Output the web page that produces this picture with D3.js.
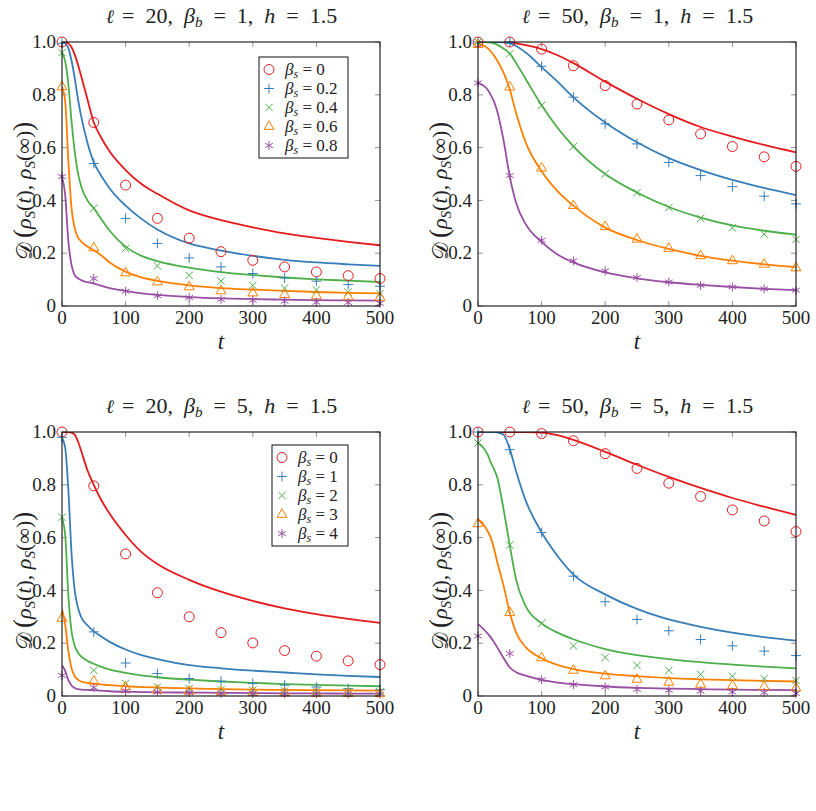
<!DOCTYPE html>
<html lang="en">
<head>
<meta charset="utf-8">
<script src="https://cdn.jsdelivr.net/npm/d3@7"></script>
<style>
body { margin: 0; background: #fff; }
</style>
</head>
<body>
<svg id="fig" width="816" height="811"></svg>
<script>

// time grid of the curves and of the markers
var tLine = [0, 5, 10, 15, 20, 25, 30, 40, 50, 60, 75, 100, 125, 150, 200, 250, 300, 350, 400, 450, 500];
var tMark = [0, 50, 100, 150, 200, 250, 300, 350, 400, 450, 500];
var xTicks = [0, 100, 200, 300, 400, 500];
var yTicks = [0, 0.2, 0.4, 0.6, 0.8, 1.0];
var yTickLabels = ["0", "0.2", "0.4", "0.6", "0.8", "1.0"];
var colors = ["#e41a1c", "#377eb8", "#4daf4a", "#ff7f00", "#984ea3"];

var titleEll = ["20", "50", "20", "50"];
var titleBetaB = ["1", "1", "5", "5"];
var legendTop = ["0", "0.2", "0.4", "0.6", "0.8"];
var legendBottom = ["0", "1", "2", "3", "4"];

// l = 20, beta_b = 1
var p1Lines = [
  [1.0, 1.0, 0.995, 0.98, 0.952, 0.915, 0.872, 0.783, 0.695, 0.645, 0.585, 0.515, 0.462, 0.425, 0.362, 0.325, 0.298, 0.275, 0.258, 0.243, 0.23],
  [1.0, 0.995, 0.977, 0.93, 0.863, 0.785, 0.72, 0.618, 0.544, 0.5, 0.445, 0.38, 0.33, 0.29, 0.237, 0.21, 0.19, 0.175, 0.165, 0.158, 0.152],
  [0.958, 0.927, 0.84, 0.70, 0.585, 0.505, 0.455, 0.40, 0.37, 0.335, 0.285, 0.225, 0.19, 0.17, 0.145, 0.128, 0.117, 0.108, 0.101, 0.096, 0.091],
  [0.83, 0.775, 0.55, 0.37, 0.295, 0.26, 0.245, 0.225, 0.211, 0.195, 0.165, 0.13, 0.108, 0.095, 0.078, 0.068, 0.062, 0.057, 0.053, 0.050, 0.048],
  [0.49, 0.42, 0.245, 0.155, 0.117, 0.105, 0.098, 0.09, 0.085, 0.078, 0.068, 0.057, 0.048, 0.042, 0.034, 0.029, 0.026, 0.024, 0.022, 0.021, 0.02]
];
var p1Marks = [
  [1.0, 0.695, 0.458, 0.332, 0.257, 0.206, 0.173, 0.148, 0.129, 0.115, 0.104],
  [0.995, 0.54, 0.332, 0.237, 0.182, 0.148, 0.123, 0.106, 0.094, 0.081, 0.075],
  [0.96, 0.37, 0.218, 0.152, 0.116, 0.095, 0.078, 0.068, 0.061, 0.053, 0.047],
  [0.83, 0.22, 0.125, 0.091, 0.072, 0.057, 0.049, 0.043, 0.038, 0.034, 0.032],
  [0.49, 0.104, 0.056, 0.039, 0.032, 0.025, 0.022, 0.018, 0.014, 0.013, 0.01]
];

// l = 50, beta_b = 1
var p2Lines = [
  [1.0, 1.0, 1.0, 1.0, 1.0, 1.0, 1.0, 1.0, 0.998, 0.995, 0.988, 0.973, 0.95, 0.92, 0.85, 0.785, 0.727, 0.678, 0.642, 0.61, 0.582],
  [1.0, 1.0, 1.0, 1.0, 1.0, 1.0, 1.0, 0.999, 0.995, 0.985, 0.96, 0.905, 0.85, 0.79, 0.695, 0.62, 0.56, 0.515, 0.478, 0.447, 0.42],
  [1.0, 1.0, 1.0, 0.999, 0.998, 0.995, 0.99, 0.975, 0.956, 0.92, 0.86, 0.76, 0.675, 0.605, 0.50, 0.43, 0.375, 0.335, 0.305, 0.285, 0.27],
  [0.99, 0.989, 0.985, 0.977, 0.965, 0.95, 0.93, 0.885, 0.82, 0.73, 0.62, 0.51, 0.435, 0.38, 0.297, 0.25, 0.216, 0.19, 0.172, 0.158, 0.148],
  [0.845, 0.84, 0.832, 0.82, 0.80, 0.775, 0.74, 0.63, 0.49, 0.39, 0.31, 0.243, 0.195, 0.165, 0.127, 0.105, 0.09, 0.08, 0.072, 0.065, 0.06]
];
var p2Marks = [
  [1.0, 1.0, 0.973, 0.91, 0.835, 0.765, 0.705, 0.652, 0.604, 0.565, 0.529],
  [1.0, 1.0, 0.908, 0.791, 0.69, 0.614, 0.544, 0.494, 0.452, 0.416, 0.387],
  [1.0, 0.956, 0.76, 0.604, 0.50, 0.429, 0.373, 0.332, 0.296, 0.272, 0.252],
  [0.99, 0.829, 0.522, 0.38, 0.30, 0.253, 0.218, 0.19, 0.171, 0.158, 0.144],
  [0.845, 0.494, 0.249, 0.171, 0.133, 0.108, 0.091, 0.078, 0.072, 0.065, 0.06]
];

// l = 20, beta_b = 5
var p3Lines = [
  [1.0, 1.0, 1.0, 0.998, 0.99, 0.965, 0.93, 0.855, 0.80, 0.75, 0.69, 0.61, 0.545, 0.50, 0.44, 0.395, 0.36, 0.332, 0.31, 0.292, 0.277],
  [0.977, 0.94, 0.78, 0.54, 0.4, 0.335, 0.3, 0.268, 0.245, 0.228, 0.205, 0.176, 0.155, 0.14, 0.117, 0.105, 0.096, 0.089, 0.082, 0.076, 0.072],
  [0.673, 0.61, 0.38, 0.245, 0.19, 0.165, 0.15, 0.133, 0.122, 0.112, 0.1, 0.088, 0.078, 0.071, 0.062, 0.055, 0.05, 0.045, 0.042, 0.039, 0.037],
  [0.33, 0.27, 0.17, 0.105, 0.075, 0.062, 0.055, 0.05, 0.047, 0.044, 0.041, 0.037, 0.034, 0.032, 0.029, 0.026, 0.024, 0.023, 0.022, 0.021, 0.02],
  [0.116, 0.095, 0.06, 0.04, 0.03, 0.026, 0.024, 0.023, 0.022, 0.02, 0.018, 0.016, 0.015, 0.014, 0.013, 0.012, 0.011, 0.01, 0.01, 0.009, 0.009]
];
var p3Marks = [
  [1.0, 0.796, 0.538, 0.391, 0.30, 0.24, 0.201, 0.172, 0.151, 0.133, 0.119],
  [0.98, 0.243, 0.125, 0.085, 0.066, 0.056, 0.047, 0.041, 0.034, 0.028, 0.024],
  [0.677, 0.097, 0.047, 0.034, 0.028, 0.024, 0.022, 0.019, 0.018, 0.016, 0.015],
  [0.294, 0.056, 0.034, 0.022, 0.018, 0.015, 0.013, 0.011, 0.01, 0.009, 0.008],
  [0.078, 0.032, 0.019, 0.015, 0.013, 0.01, 0.009, 0.008, 0.008, 0.007, 0.007]
];

// l = 50, beta_b = 5
var p4Lines = [
  [1.0, 1.0, 1.0, 1.0, 1.0, 1.0, 1.0, 1.0, 1.0, 1.0, 1.0, 0.998, 0.988, 0.97, 0.925, 0.876, 0.83, 0.788, 0.75, 0.717, 0.686],
  [1.0, 1.0, 1.0, 1.0, 1.0, 1.0, 0.999, 0.99, 0.935, 0.85, 0.74, 0.62, 0.53, 0.46, 0.385, 0.33, 0.29, 0.262, 0.24, 0.223, 0.21],
  [0.958, 0.95, 0.935, 0.915, 0.885, 0.86, 0.83, 0.71, 0.57, 0.44, 0.34, 0.275, 0.24, 0.215, 0.178, 0.155, 0.14, 0.128, 0.119, 0.111, 0.105],
  [0.667, 0.66, 0.645, 0.625, 0.6, 0.56, 0.51, 0.42, 0.315, 0.24, 0.185, 0.143, 0.118, 0.102, 0.085, 0.075, 0.068, 0.063, 0.06, 0.057, 0.055],
  [0.272, 0.262, 0.25, 0.237, 0.222, 0.205, 0.185, 0.145, 0.108, 0.09, 0.077, 0.061, 0.051, 0.045, 0.036, 0.031, 0.028, 0.026, 0.024, 0.023, 0.022]
];
var p4Marks = [
  [1.0, 1.0, 0.994, 0.967, 0.918, 0.862, 0.806, 0.756, 0.705, 0.663, 0.623],
  [1.0, 0.933, 0.619, 0.454, 0.357, 0.29, 0.247, 0.214, 0.19, 0.17, 0.153],
  [0.958, 0.572, 0.275, 0.19, 0.146, 0.116, 0.097, 0.082, 0.075, 0.066, 0.059],
  [0.652, 0.316, 0.144, 0.097, 0.076, 0.063, 0.052, 0.044, 0.039, 0.035, 0.03],
  [0.227, 0.161, 0.062, 0.043, 0.034, 0.025, 0.022, 0.018, 0.015, 0.013, 0.01]
];

var FONT = "'Liberation Serif'";
var svg = d3.select("#fig");

var symbols = [
  d3.symbol().type(d3.symbolCircle).size(78),
  d3.symbol().type(d3.symbolPlus).size(34),
  d3.symbol().type(d3.symbolX).size(38),
  d3.symbol().type(d3.symbolTriangle2).size(70),
  d3.symbol().type(d3.symbolAsterisk).size(55)
];

var pw = 318, ph = 264;

function txt(parent, fam) {
  return parent.append("text").style("font-family", fam || FONT).style("fill", "#222");
}

function sub(text, parent, size, dy) {
  parent.append("tspan").text(text).attr("dy", dy).style("font-size", size + "px").style("font-style", "italic");
}

function drawPanel(idx, left, top, lines, marks, legendLabels) {
  var g = svg.append("g").attr("transform", "translate(" + left + "," + top + ")");

  var x = d3.scaleLinear().domain([0, 500]).range([0, pw]);
  var y = d3.scaleLinear().domain([0, 1]).range([ph, 0]);

  var clipId = "clip" + idx;
  g.append("clipPath").attr("id", clipId)
    .append("rect").attr("width", pw).attr("height", ph);

  // ticks, inward, on all four sides
  var ticks = g.append("g").attr("stroke", "#777").attr("stroke-width", 0.8);
  xTicks.forEach(function(t) {
    ticks.append("line").attr("x1", x(t)).attr("x2", x(t)).attr("y1", ph).attr("y2", ph - 5);
    ticks.append("line").attr("x1", x(t)).attr("x2", x(t)).attr("y1", 0).attr("y2", 5);
  });
  yTicks.forEach(function(v) {
    ticks.append("line").attr("x1", 0).attr("x2", 5).attr("y1", y(v)).attr("y2", y(v));
    ticks.append("line").attr("x1", pw).attr("x2", pw - 5).attr("y1", y(v)).attr("y2", y(v));
  });

  // curves
  var line = d3.line()
    .x(function(d, i) { return x(tLine[i]); })
    .y(function(d) { return y(d); })
    .curve(d3.curveMonotoneX);

  g.append("g").attr("clip-path", "url(#" + clipId + ")")
    .selectAll("path")
    .data(lines)
    .enter().append("path")
    .attr("d", line)
    .attr("fill", "none")
    .attr("stroke", function(d, i) { return colors[i]; })
    .attr("stroke-width", 1.8);

  // markers
  marks.forEach(function(series, s) {
    g.append("g").selectAll("path")
      .data(series)
      .enter().append("path")
      .attr("transform", function(d, i) { return "translate(" + x(tMark[i]) + "," + y(d) + ")"; })
      .attr("d", symbols[s])
      .attr("fill", "none")
      .attr("stroke", colors[s])
      .attr("stroke-width", 1);
  });

  // frame
  g.append("rect").attr("width", pw).attr("height", ph)
    .attr("fill", "none").attr("stroke", "#111").attr("stroke-width", 1.1);

  // tick labels
  xTicks.forEach(function(t) {
    txt(g).attr("x", x(t)).attr("y", ph + 18)
      .attr("text-anchor", "middle")
      .style("font-size", "19px")
      .text(t);
  });
  yTicks.forEach(function(v, i) {
    txt(g).attr("x", -6).attr("y", y(v))
      .attr("dy", "0.33em")
      .attr("text-anchor", "end")
      .style("font-size", "19px")
      .text(yTickLabels[i]);
  });

  // x label
  txt(g).attr("x", pw / 2).attr("y", ph + 43)
    .attr("text-anchor", "middle")
    .style("font-size", "23px").style("font-style", "italic")
    .text("t");

  // y label: script D on its own, then the rest
  txt(g, "'DejaVu Serif'")
    .attr("transform", "translate(-30,218) rotate(-90)")
    .style("font-size", "22px")
    .text("\uD835\uDC9F");
  var yl = txt(g)
    .attr("transform", "translate(-30,196) rotate(-90)")
    .style("font-size", "22px");
  yl.append("tspan").text("(").style("font-size", "27px");
  yl.append("tspan").text("ρ").style("font-style", "italic").attr("dy", -1);
  sub("S", yl, 15, 4);
  yl.append("tspan").text("(").attr("dy", -4);
  yl.append("tspan").text("t").style("font-style", "italic");
  yl.append("tspan").text("), ");
  yl.append("tspan").text("ρ").style("font-style", "italic");
  sub("S", yl, 15, 4);
  yl.append("tspan").text("(∞)").attr("dy", -4);
  yl.append("tspan").text(")").style("font-size", "27px").attr("dy", 1);

  // title: ell on its own, then the rest
  txt(g, "'DejaVu Serif'").attr("x", 44).attr("y", -19)
    .style("font-size", "19px").style("font-style", "italic")
    .text("ℓ");
  var title = txt(g).attr("x", 60).attr("y", -19).style("font-size", "22px");
  title.append("tspan").text("=  " + titleEll[idx] + ",  ");
  title.append("tspan").text("β").style("font-style", "italic");
  sub("b", title, 15, 4);
  title.append("tspan").text("  =  " + titleBetaB[idx] + ",  ").attr("dy", -4);
  title.append("tspan").text("h").style("font-style", "italic");
  title.append("tspan").text("  =  1.5");
  title.attr("xml:space", "preserve").style("white-space", "pre");

  // legend
  if (legendLabels) {
    var bw = legendLabels[1].length > 1 ? 89 : 76;
    var lg = g.append("g")
      .attr("transform", "translate(" + (pw - 32 - bw) + "," + (idx < 2 ? 15 : 13) + ")");
    lg.append("rect").attr("width", bw).attr("height", 101)
      .attr("fill", "#fff").attr("stroke", "#111").attr("stroke-width", 1);
    legendLabels.forEach(function(lab, i) {
      var ry = 12.5 + i * 19;
      lg.append("path").attr("transform", "translate(10," + ry + ")")
        .attr("d", symbols[i]).attr("fill", "none").attr("stroke", colors[i]).attr("stroke-width", 1);
      var tx = txt(lg).attr("x", 26).attr("y", ry + 5).style("font-size", "17px");
      tx.append("tspan").text("β").style("font-style", "italic");
      sub("s", tx, 12, 3);
      tx.append("tspan").text(" = " + lab).attr("dy", -3);
    });
  }
}

drawPanel(0, 62, 42, p1Lines, p1Marks, legendTop);
drawPanel(1, 478, 42, p2Lines, p2Marks, null);
drawPanel(2, 62, 432, p3Lines, p3Marks, legendBottom);
drawPanel(3, 478, 432, p4Lines, p4Marks, null);

</script>
</body>
</html>
